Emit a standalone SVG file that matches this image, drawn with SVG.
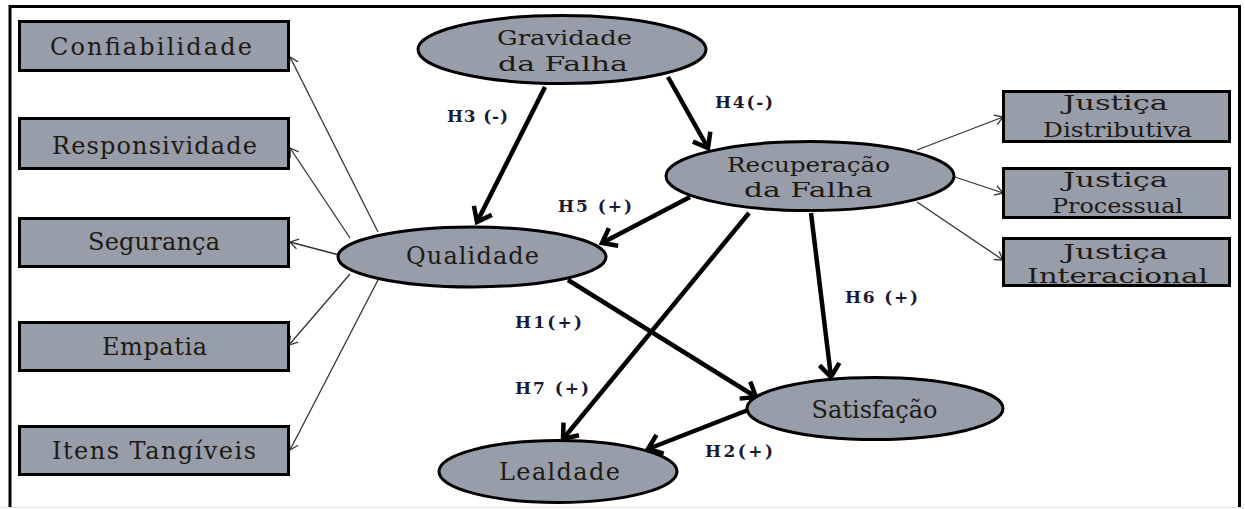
<svg xmlns="http://www.w3.org/2000/svg" width="1245" height="509" viewBox="0 0 1245 509">
<defs>
<style>
.box{fill:#979da9;stroke:#000;stroke-width:3}
.ell{fill:#979da9;stroke:#000;stroke-width:3}
.t{font-family:"DejaVu Serif","Liberation Serif",serif;font-size:24px;fill:#1e1a14}
.t2{font-family:"DejaVu Serif","Liberation Serif",serif;font-size:21px;fill:#1e1a14}
.t3{font-family:"DejaVu Serif","Liberation Serif",serif;font-size:20px;fill:#1e1a14}
.lab{font-family:"DejaVu Serif","Liberation Serif",serif;font-size:17px;font-weight:bold;fill:#1a1a33}
.thin{stroke:#333;stroke-width:1.3;fill:none;marker-end:url(#ah)}
.thick{stroke:#000;stroke-width:4.5;fill:none;marker-end:url(#AH)}
</style>
<marker id="AH" markerUnits="userSpaceOnUse" viewBox="-16 -13 19 26" markerWidth="19" markerHeight="26" refX="0" refY="0" orient="auto">
<path d="M-13,-10 L0,0 L-13,10" fill="none" stroke="#000" stroke-width="4.5"/>
</marker>
<marker id="ah" markerUnits="userSpaceOnUse" viewBox="-10 -7 12 14" markerWidth="12" markerHeight="14" refX="0" refY="0" orient="auto">
<path d="M-8,-5 L0,0 L-8,5" fill="none" stroke="#333" stroke-width="1.3"/>
</marker>
</defs>
<rect x="0" y="0" width="1245" height="509" fill="#fff"/>
<path d="M10,508 L10,6.5 L1239.5,6.5 L1239.5,508" fill="none" stroke="#000" stroke-width="3"/>
<line x1="0" y1="507.5" x2="1245" y2="507.5" stroke="#e6e6e6" stroke-width="1"/>

<g id="connectors">
<line class="thin" x1="378" y1="232" x2="290" y2="57"/>
<line class="thin" x1="350" y1="238" x2="290" y2="148"/>
<line class="thin" x1="339" y1="255" x2="290" y2="242"/>
<line class="thin" x1="350" y1="274" x2="289" y2="345"/>
<line class="thin" x1="378" y1="280" x2="290" y2="450"/>
<line class="thin" x1="917" y1="150" x2="1003" y2="117"/>
<line class="thin" x1="955" y1="177" x2="1003" y2="193"/>
<line class="thin" x1="917" y1="202" x2="1003" y2="260"/>
<line class="thick" x1="545" y1="87" x2="477" y2="222"/>
<line class="thick" x1="668" y1="77" x2="708" y2="148"/>
<line class="thick" x1="690" y1="197" x2="602" y2="243"/>
<line class="thick" x1="749" y1="213" x2="563" y2="439"/>
<line class="thick" x1="811" y1="213" x2="831" y2="377"/>
<line class="thick" x1="568" y1="280" x2="756" y2="397"/>
<line class="thick" x1="748" y1="410" x2="648" y2="449"/>
</g>

<g id="confiabilidade"><rect class="box" x="19.5" y="21.5" width="269" height="49"/><text class="t" x="50" y="55" textLength="202" lengthAdjust="spacing">Confiabilidade</text></g>
<g id="responsividade"><rect class="box" x="19.5" y="118.5" width="269" height="50"/><text class="t" x="52" y="154" textLength="205" lengthAdjust="spacing">Responsividade</text></g>
<g id="seguranca"><rect class="box" x="19.5" y="218.5" width="269" height="48"/><text class="t" x="88" y="250" textLength="132" lengthAdjust="spacing">Segurança</text></g>
<g id="empatia"><rect class="box" x="19.5" y="322.5" width="269" height="48"/><text class="t" x="102" y="355" textLength="105" lengthAdjust="spacing">Empatia</text></g>
<g id="itens"><rect class="box" x="19.5" y="426.5" width="269" height="48"/><text class="t" x="52" y="459" textLength="204" lengthAdjust="spacing">Itens Tangíveis</text></g>

<g id="gravidade"><ellipse class="ell" cx="562" cy="49.5" rx="144" ry="34"/><text class="t2" x="497" y="45" textLength="135" lengthAdjust="spacingAndGlyphs">Gravidade</text><text class="t2" x="498" y="71" textLength="130" lengthAdjust="spacingAndGlyphs">da Falha</text></g>
<g id="recuperacao"><ellipse class="ell" cx="810" cy="176" rx="144" ry="34.5"/><text class="t2" x="727" y="172" textLength="163" lengthAdjust="spacingAndGlyphs">Recuperação</text><text class="t2" x="744" y="197" textLength="129" lengthAdjust="spacingAndGlyphs">da Falha</text></g>
<g id="qualidade"><ellipse class="ell" cx="472" cy="257" rx="134" ry="30"/><text class="t" x="406" y="264" textLength="133" lengthAdjust="spacing">Qualidade</text></g>
<g id="satisfacao"><ellipse class="ell" cx="875" cy="408.5" rx="128" ry="31"/><text class="t" x="874.5" y="418" text-anchor="middle">Satisfação</text></g>
<g id="lealdade"><ellipse class="ell" cx="558" cy="471.5" rx="119" ry="31"/><text class="t" x="499" y="480" textLength="121" lengthAdjust="spacing">Lealdade</text></g>

<g id="distributiva"><rect class="box" x="1003.5" y="91.5" width="226" height="50"/><text class="t3" x="1063" y="110" textLength="105" lengthAdjust="spacingAndGlyphs">Justiça</text><text class="t3" x="1043" y="137" textLength="149" lengthAdjust="spacingAndGlyphs">Distributiva</text></g>
<g id="processual"><rect class="box" x="1003.5" y="168.5" width="226" height="49"/><text class="t3" x="1063" y="187" textLength="105" lengthAdjust="spacingAndGlyphs">Justiça</text><text class="t3" x="1052" y="213" textLength="131" lengthAdjust="spacingAndGlyphs">Processual</text></g>
<g id="interacional"><rect class="box" x="1003.5" y="238.5" width="226" height="47"/><text class="t3" x="1063" y="259" textLength="105" lengthAdjust="spacingAndGlyphs">Justiça</text><text class="t3" x="1027" y="283" textLength="181" lengthAdjust="spacingAndGlyphs">Interacional</text></g>

<g id="labels">
<text class="lab" x="447" y="122" textLength="61" lengthAdjust="spacing">H3 (-)</text>
<text class="lab" x="715" y="108" textLength="58" lengthAdjust="spacing">H4(-)</text>
<text class="lab" x="558" y="212" textLength="74" lengthAdjust="spacing">H5 (+)</text>
<text class="lab" x="515" y="328" textLength="67" lengthAdjust="spacing">H1(+)</text>
<text class="lab" x="515" y="394" textLength="74" lengthAdjust="spacing">H7 (+)</text>
<text class="lab" x="705" y="457" textLength="68" lengthAdjust="spacing">H2(+)</text>
<text class="lab" x="845" y="303" textLength="73" lengthAdjust="spacing">H6 (+)</text>
</g>
</svg>
